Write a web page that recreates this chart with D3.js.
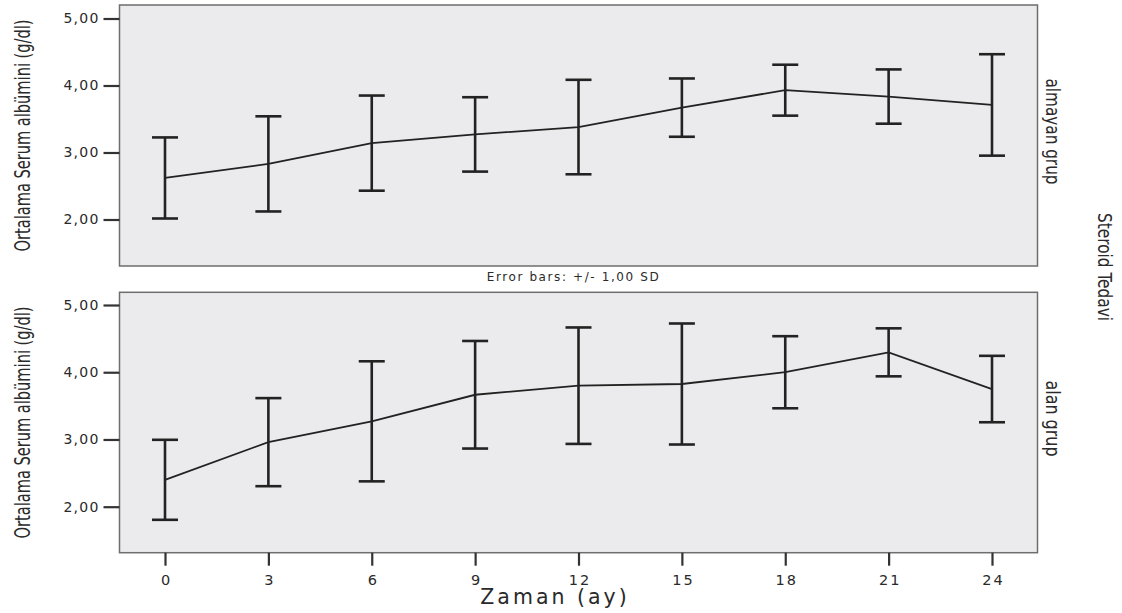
<!DOCTYPE html>
<html lang="tr">
<head>
  <meta charset="utf-8" />
  <title>Ortalama Serum albümini - Steroid Tedavi</title>
  <style>
    body { margin: 0; background: #fff; }
    svg { display: block; }
    .tick text { font-family: 'DejaVu Sans', Verdana, sans-serif; fill: #2a2a2a; }
    .narrow { font-family: 'Liberation Sans Narrow', 'DejaVu Sans Condensed', sans-serif; fill: #2a2a2a; }
  </style>
</head>
<body>
<script src="https://d3js.org/d3.v7.min.js"></script>
<script>
// ---- data ----
const months = [0, 3, 6, 9, 12, 15, 18, 21, 24];
const groups = ["almayan grup", "alan grup"];
const meanAlmayan = [2.62, 2.83, 3.14, 3.27, 3.38, 3.67, 3.93, 3.835, 3.71];
const sdAlmayan   = [0.605, 0.71, 0.71, 0.555, 0.705, 0.435, 0.38, 0.405, 0.757];
const meanAlan    = [2.40, 2.96, 3.27, 3.665, 3.80, 3.825, 4.00, 4.296, 3.75];
const sdAlan      = [0.595, 0.655, 0.893, 0.80, 0.866, 0.90, 0.536, 0.357, 0.494];
const yTicks = [2, 3, 4, 5];

const W = 1122, H = 613;
const svg = d3.select("body").append("svg").attr("width", W).attr("height", H);

// shared x scale
const x = d3.scaleLinear().domain([0, 24]).range([165, 992]);
const padX = 45.5;
const left = x(0) - padX, right = x(24) + padX;

// panel geometry: [top, bottom, y of 5,00, y of 2,00]
const panels = [
  { name: groups[0], mean: meanAlmayan, sd: sdAlmayan, top: 5, bottom: 266, y5: 18.5, y2: 219.5 },
  { name: groups[1], mean: meanAlan,    sd: sdAlan,    top: 292.3, bottom: 552.7, y5: 305, y2: 506.7 }
];

const fmt = d => d3.format(".2f")(d).replace(".", ",");

panels.forEach(p => {
  const y = d3.scaleLinear().domain([2, 5]).range([p.y2, p.y5]);
  const g = svg.append("g");

  g.append("rect")
    .attr("x", left).attr("y", p.top)
    .attr("width", right - left).attr("height", p.bottom - p.top)
    .attr("fill", "#ebebed").attr("stroke", "#6e6e6e").attr("stroke-width", 1.5);

  // y axis
  const ax = g.append("g").attr("transform", `translate(${left},0)`)
    .call(d3.axisLeft(y).tickValues(yTicks).tickFormat(fmt).tickSize(16).tickPadding(5));
  ax.select(".domain").remove();
  ax.selectAll(".tick line").attr("stroke", "#333").attr("stroke-width", 2.2);
  ax.selectAll(".tick text").attr("font-size", 14).attr("letter-spacing", 1.2).attr("dx", 1);

  // y label
  g.append("text").attr("class", "narrow")
    .attr("transform", `translate(30,${(p.top + p.bottom) / 2}) rotate(-90)`)
    .attr("text-anchor", "middle").attr("font-size", 22)
    .attr("textLength", 232).attr("lengthAdjust", "spacingAndGlyphs")
    .text("Ortalama Serum albümini (g/dl)");

  // group label on the right
  g.append("text").attr("class", "narrow")
    .attr("transform", `translate(1046,${(p.top + p.bottom) / 2 - 4}) rotate(90)`)
    .attr("text-anchor", "middle").attr("font-size", 20)
    .attr("textLength", p.name.length > 10 ? 106 : 76).attr("lengthAdjust", "spacingAndGlyphs")
    .text(p.name);

  // mean line
  const pts = months.map((m, i) => ({ m, mean: p.mean[i], sd: p.sd[i] }));
  g.append("path").datum(pts)
    .attr("fill", "none").attr("stroke", "#222").attr("stroke-width", 1.8)
    .attr("d", d3.line().x(d => x(d.m)).y(d => y(d.mean)));

  // error bars +/- 1 SD
  const eb = g.selectAll(".eb").data(pts).join("g").attr("class", "eb")
    .attr("stroke", "#222").attr("stroke-width", 2.6);
  eb.append("line")
    .attr("x1", d => x(d.m)).attr("x2", d => x(d.m))
    .attr("y1", d => y(d.mean + d.sd)).attr("y2", d => y(d.mean - d.sd));
  eb.append("line")
    .attr("x1", d => x(d.m) - 13).attr("x2", d => x(d.m) + 13)
    .attr("y1", d => y(d.mean + d.sd)).attr("y2", d => y(d.mean + d.sd));
  eb.append("line")
    .attr("x1", d => x(d.m) - 13).attr("x2", d => x(d.m) + 13)
    .attr("y1", d => y(d.mean - d.sd)).attr("y2", d => y(d.mean - d.sd));
});

// x axis under bottom panel
const xa = svg.append("g").attr("transform", `translate(0,${panels[1].bottom})`)
  .call(d3.axisBottom(x).tickValues(months).tickSize(13).tickPadding(9));
xa.select(".domain").remove();
xa.selectAll(".tick line").attr("stroke", "#333").attr("stroke-width", 2.2);
xa.selectAll(".tick text").attr("font-size", 14.5).attr("letter-spacing", 2).attr("dx", 1);

svg.append("text")
  .attr("x", 555).attr("y", 604)
  .attr("text-anchor", "middle")
  .attr("font-family", "'DejaVu Sans', Verdana, sans-serif")
  .attr("font-size", 20.5).attr("letter-spacing", 3).attr("fill", "#2a2a2a")
  .text("Zaman (ay)");

svg.append("text")
  .attr("x", (left + right) / 2 - 5).attr("y", 281)
  .attr("text-anchor", "middle")
  .attr("font-family", "'DejaVu Sans', Verdana, sans-serif")
  .attr("font-size", 12).attr("letter-spacing", 1.6).attr("fill", "#2a2a2a")
  .text("Error bars: +/- 1,00 SD");

svg.append("text").attr("class", "narrow")
  .attr("transform", `translate(1098,267) rotate(90)`)
  .attr("text-anchor", "middle").attr("font-size", 20)
  .attr("textLength", 108).attr("lengthAdjust", "spacingAndGlyphs")
  .text("Steroid Tedavi");
</script>
</body>
</html>
